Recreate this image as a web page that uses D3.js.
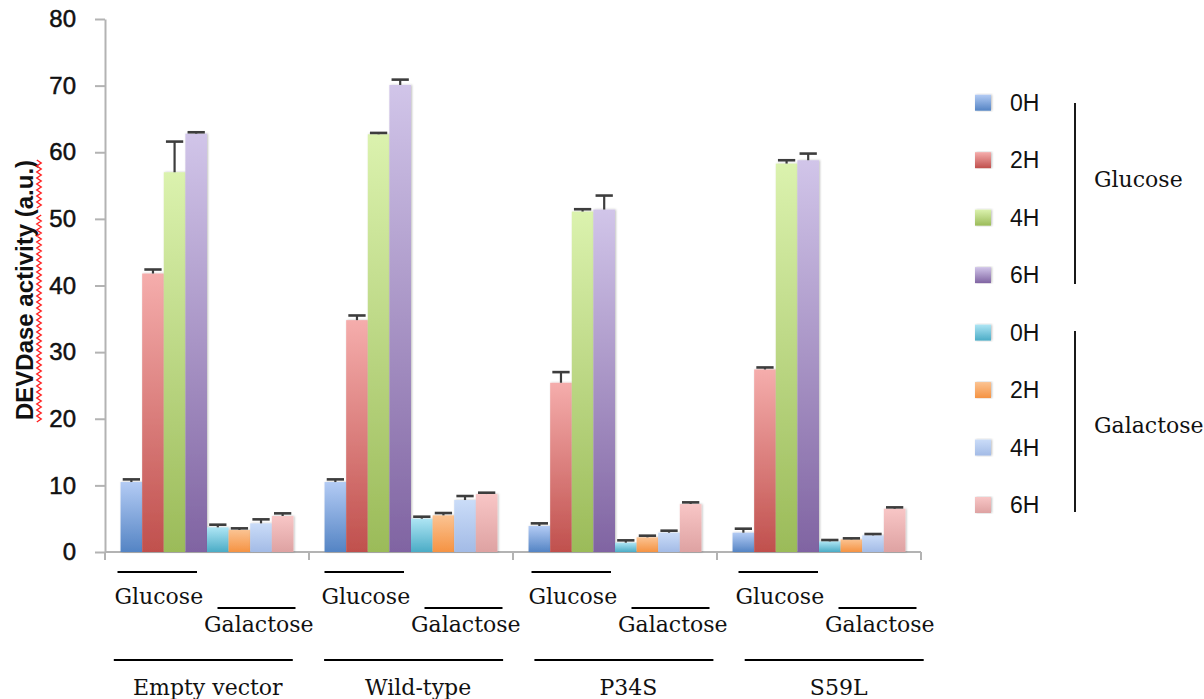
<!DOCTYPE html>
<html>
<head>
<meta charset="utf-8">
<script src="https://cdn.jsdelivr.net/npm/d3@7/dist/d3.min.js"></script>
<style>
  html, body { margin: 0; padding: 0; background: #ffffff; }
  svg { display: block; }
</style>
</head>
<body>
<svg id="chart" width="1204" height="699"></svg>
<script>
// ---------------- DATA ----------------
const categories = ["Empty vector", "Wild-type", "P34S", "S59L"];
const seriesKeys = ["glc0", "glc2", "glc4", "glc6", "gal0", "gal2", "gal4", "gal6"];
const legendLabels = ["0H", "2H", "4H", "6H", "0H", "2H", "4H", "6H"];
const sugarGroups = ["Glucose", "Galactose"];
const yTicks = [0, 10, 20, 30, 40, 50, 60, 70, 80];
const yTitle = "DEVDase activity (a.u.)";

// values per series, in category order
const glc0 = [10.5, 10.5, 3.9, 2.9];
const glc2 = [41.8, 34.8, 25.4, 27.4];
const glc4 = [57.0, 62.7, 51.1, 58.3];
const glc6 = [62.8, 70.1, 51.4, 58.8];
const gal0 = [3.7, 5.0, 1.4, 1.6];
const gal2 = [3.3, 5.5, 2.2, 1.9];
const gal4 = [4.3, 7.8, 2.9, 2.5];
const gal6 = [5.4, 8.7, 7.2, 6.5];
// error bars (upper only)
const glc0Err = [0.4, 0.4, 0.4, 0.6];
const glc2Err = [0.6, 0.7, 1.6, 0.3];
const glc4Err = [4.6, 0.2, 0.35, 0.5];
const glc6Err = [0.2, 0.8, 2.1, 1.0];
const gal0Err = [0.4, 0.3, 0.35, 0.2];
const gal2Err = [0.25, 0.35, 0.25, 0.15];
const gal4Err = [0.6, 0.6, 0.3, 0.2];
const gal6Err = [0.4, 0.2, 0.25, 0.2];

// colours (top, bottom of gradient)
const colorTop    = ["#b3cbf4", "#f5adac", "#dbf2ae", "#d1c5e9", "#aee5f4", "#fbc392", "#cadcf8", "#f8c6c6"];
const colorBottom = ["#5484c4", "#c0504d", "#9bbb59", "#8064a2", "#4bacc6", "#f59343", "#a3bbe6", "#dea2a2"];

// ---------------- BUILD ----------------
const valueTable = { glc0, glc2, glc4, glc6, gal0, gal2, gal4, gal6 };
const errTable = { glc0: glc0Err, glc2: glc2Err, glc4: glc4Err, glc6: glc6Err,
                   gal0: gal0Err, gal2: gal2Err, gal4: gal4Err, gal6: gal6Err };

const rows = [];
categories.forEach((c, ci) => {
  seriesKeys.forEach((k, si) => {
    rows.push({ cat: c, key: k, si, value: valueTable[k][ci], err: errTable[k][ci] });
  });
});

const svg = d3.select("#chart");
const defs = svg.append("defs");

seriesKeys.forEach((k, i) => {
  const g = defs.append("linearGradient").attr("id", "grad-" + k)
    .attr("x1", 0).attr("y1", 0).attr("x2", 0).attr("y2", 1);
  g.append("stop").attr("offset", "0%").attr("stop-color", colorTop[i]);
  g.append("stop").attr("offset", "100%").attr("stop-color", colorBottom[i]);
});
const f = defs.append("filter").attr("id", "shadow")
  .attr("x", "-20%").attr("y", "-5%").attr("width", "140%").attr("height", "110%");
f.append("feDropShadow").attr("dx", 1).attr("dy", 0).attr("stdDeviation", 1.2)
  .attr("flood-color", "#000").attr("flood-opacity", 0.25);

const plotLeft = 105, plotRight = 921, plotTop = 19, plotBottom = 552;

const y = d3.scaleLinear().domain([0, 80]).range([plotBottom, plotTop]);
const x0 = d3.scaleBand().domain(categories).range([plotLeft, plotRight]).padding(0);
const x1 = d3.scaleBand().domain(seriesKeys).range([0, x0.bandwidth()])
  .paddingInner(0).paddingOuter(0.72);

const axisColor = "#b3b3b3";

// Y axis
const yAxis = d3.axisLeft(y).tickValues(yTicks).tickSize(10).tickSizeOuter(0).tickPadding(19);
const yg = svg.append("g").attr("transform", `translate(${plotLeft},0)`).call(yAxis);
yg.select(".domain").attr("stroke", axisColor).attr("stroke-width", 2);
yg.selectAll(".tick line").attr("stroke", axisColor).attr("stroke-width", 2);
yg.selectAll(".tick text")
  .attr("font-family", "'Liberation Sans', Arial, sans-serif")
  .attr("font-size", 24).attr("fill", "#111")
  .attr("stroke", "#111").attr("stroke-width", 0.5);

// X axis (line + boundary ticks)
const xg = svg.append("g");
xg.append("line").attr("x1", plotLeft).attr("x2", plotRight)
  .attr("y1", y(0)).attr("y2", y(0)).attr("stroke", axisColor).attr("stroke-width", 2);
const bounds = categories.map(c => x0(c)).concat([x0(categories[categories.length - 1]) + x0.bandwidth()]);
xg.selectAll("line.xt").data(bounds).enter().append("line").attr("class", "xt")
  .attr("x1", d => d).attr("x2", d => d)
  .attr("y1", y(0)).attr("y2", y(0) + 8)
  .attr("stroke", axisColor).attr("stroke-width", 2);

// Bars
const bars = svg.append("g");
bars.selectAll("rect").data(rows).enter().append("rect")
  .attr("x", d => x0(d.cat) + x1(d.key))
  .attr("y", d => y(d.value))
  .attr("width", x1.bandwidth())
  .attr("height", d => y(0) - y(d.value))
  .attr("fill", d => `url(#grad-${d.key})`)
  .attr("filter", "url(#shadow)");

// Error bars
const capW = x1.bandwidth() * 0.8;
const eb = svg.append("g").attr("stroke", "#3d3d3d");
eb.selectAll("line.v").data(rows).enter().append("line").attr("class", "v")
  .attr("x1", d => x0(d.cat) + x1(d.key) + x1.bandwidth() / 2)
  .attr("x2", d => x0(d.cat) + x1(d.key) + x1.bandwidth() / 2)
  .attr("y1", d => y(d.value)).attr("y2", d => y(d.value + d.err))
  .attr("stroke-width", 2.2);
eb.selectAll("line.c").data(rows).enter().append("line").attr("class", "c")
  .attr("x1", d => x0(d.cat) + x1(d.key) + x1.bandwidth() / 2 - capW / 2)
  .attr("x2", d => x0(d.cat) + x1(d.key) + x1.bandwidth() / 2 + capW / 2)
  .attr("y1", d => y(d.value + d.err)).attr("y2", d => y(d.value + d.err))
  .attr("stroke-width", 2.6);

// Y title
const titleCx = 33, titleCy = 290;
svg.append("text")
  .attr("transform", `translate(${titleCx},${titleCy}) rotate(-90)`)
  .attr("text-anchor", "middle")
  .attr("font-family", "'Liberation Sans', Arial, sans-serif")
  .attr("font-weight", "bold").attr("font-size", 24).attr("fill", "#111")
  .text(yTitle);
// red wavy spell-check underline
function wavy(x, yA, yB) {
  const pts = [];
  let side = 0;
  for (let yy = yB; yy >= yA; yy -= 3) { pts.push([x + (side ? 2.2 : -2.2), yy]); side = 1 - side; }
  return d3.line()(pts);
}
svg.append("path").attr("d", wavy(39, 158, 208)).attr("fill", "none").attr("stroke", "#ff2020").attr("stroke-width", 1.4);
svg.append("path").attr("d", wavy(39, 214, 422)).attr("fill", "none").attr("stroke", "#ff2020").attr("stroke-width", 1.4);

// Bottom hand-drawn annotations
const serif = "'DejaVu Serif', 'Liberation Serif', serif";
const subScale = d3.scaleBand().domain(categories).range([114.5, 114.5 + 4 * 207]);
const grpScale = d3.scaleBand().domain(categories).range([113.8, 113.8 + 4 * 210.3]);
const ann = svg.append("g").attr("stroke", "#000").attr("stroke-width", 1.8);
const annT = svg.append("g").attr("font-family", serif).attr("font-size", 22).attr("fill", "#111");
categories.forEach(c => {
  const s = subScale(c), g = grpScale(c);
  ann.append("line").attr("x1", s + 3).attr("x2", s + 82.5).attr("y1", 572).attr("y2", 572);
  annT.append("text").attr("x", s).attr("y", 604).text(sugarGroups[0]);
  ann.append("line").attr("x1", s + 103).attr("x2", s + 181).attr("y1", 608).attr("y2", 608);
  annT.append("text").attr("x", s + 89.5).attr("y", 632).text(sugarGroups[1]);
  ann.append("line").attr("x1", g).attr("x2", g + 179).attr("y1", 660).attr("y2", 660);
  annT.append("text").attr("x", g + 94).attr("y", 695).attr("text-anchor", "middle").text(c);
});

// Legend
const legY = d3.scalePoint().domain(d3.range(legendLabels.length)).range([102.7, 505]);
const leg = svg.append("g");
legendLabels.forEach((lab, i) => {
  const cy = legY(i);
  leg.append("rect").attr("x", 975).attr("y", cy - 8).attr("width", 16).attr("height", 16)
    .attr("fill", `url(#grad-${seriesKeys[i]})`).attr("filter", "url(#shadow)");
  leg.append("text").attr("x", 1010).attr("y", cy + 8)
    .attr("font-family", "'Liberation Sans', Arial, sans-serif").attr("font-size", 23).attr("fill", "#111")
    .text(lab);
});
// group brackets
leg.append("line").attr("x1", 1075).attr("x2", 1075).attr("y1", 103).attr("y2", 284).attr("stroke", "#000").attr("stroke-width", 1.8);
leg.append("line").attr("x1", 1075).attr("x2", 1075).attr("y1", 331).attr("y2", 512).attr("stroke", "#000").attr("stroke-width", 1.8);
leg.append("text").attr("x", 1094).attr("y", 187).attr("font-family", serif).attr("font-size", 22).attr("fill", "#111").text(sugarGroups[0]);
leg.append("text").attr("x", 1094).attr("y", 433).attr("font-family", serif).attr("font-size", 22).attr("fill", "#111").text(sugarGroups[1]);
</script>
</body>
</html>
